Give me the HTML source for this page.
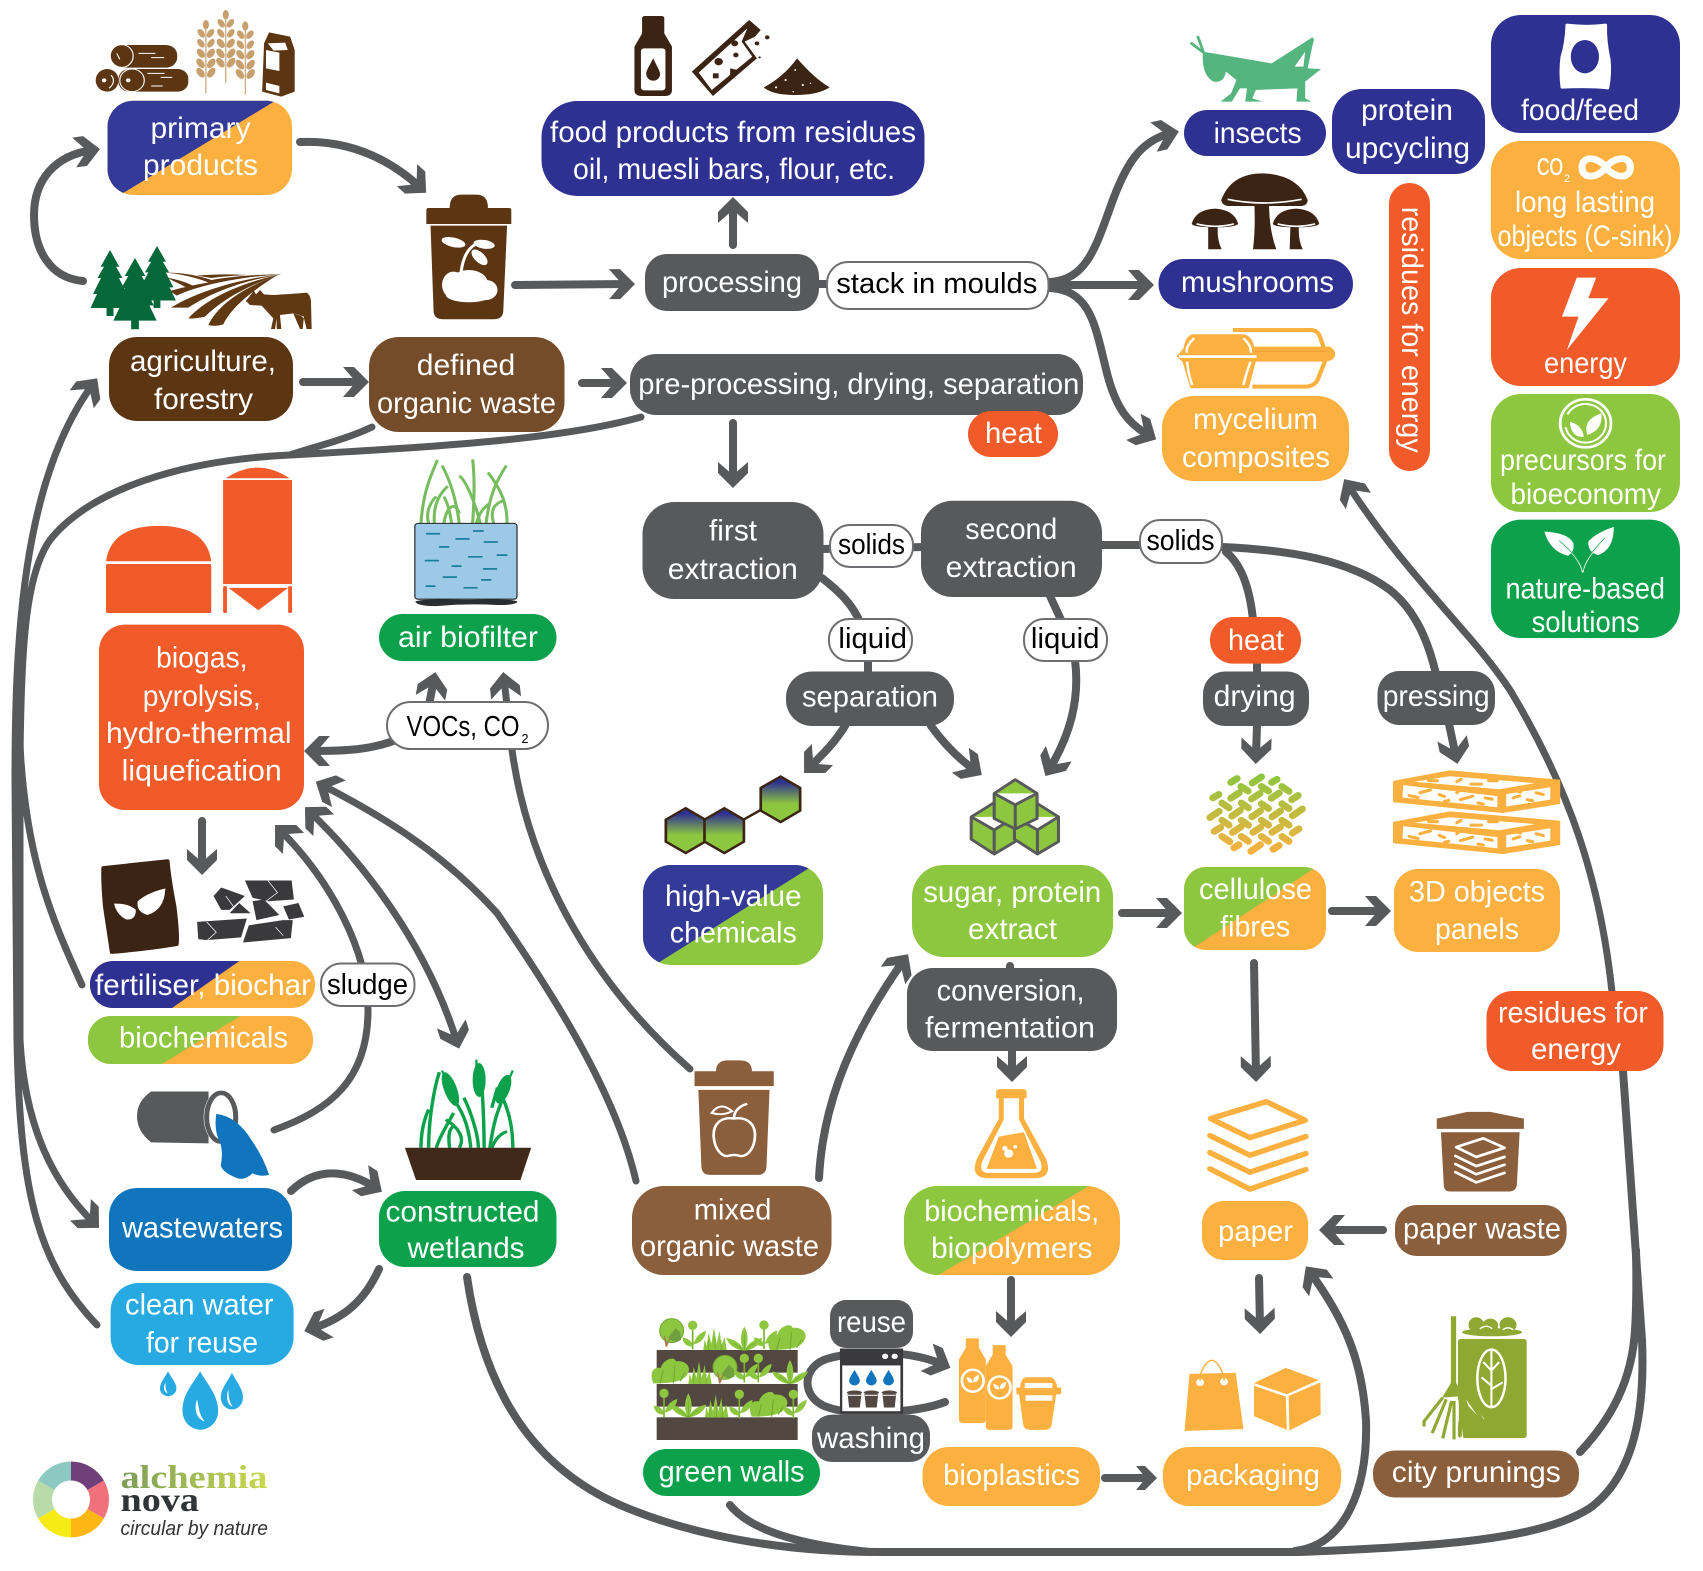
<!DOCTYPE html>
<html><head><meta charset="utf-8"><title>Circular organic waste flows</title>
<style>html,body{margin:0;padding:0;background:#fff}svg{display:block}
.t{font-family:"Liberation Sans",sans-serif;font-size:30px;fill:#fff;text-anchor:middle}
.k{fill:#000;font-size:29px}
.c path{fill:none;stroke:#58595b;stroke-width:8;stroke-linecap:round}
.c path.th{stroke-width:7}
.w{fill:none;stroke:#fff}
</style></head><body>
<svg xmlns="http://www.w3.org/2000/svg" width="1703" height="1571" viewBox="0 0 1703 1571">
<defs>
<marker id="a" markerUnits="userSpaceOnUse" viewBox="-24 -20 40 40" markerWidth="40" markerHeight="40" refX="0" refY="0" orient="auto-start-reverse"><polygon fill="#58595b" points="7,0 -8,-15 -19,-15 -6,0 -19,15 -8,15"/></marker>
<marker id="b" markerUnits="userSpaceOnUse" viewBox="-24 -20 40 40" markerWidth="40" markerHeight="40" refX="0" refY="0" orient="auto"><polygon fill="#58595b" points="7,0 -5,-12 -14,-12 -4,0 -14,12 -5,12"/></marker>
<linearGradient id="hx" x1="0" y1="0" x2="0" y2="1"><stop offset=".12" stop-color="#2e3192"/><stop offset=".6" stop-color="#8dc63f"/></linearGradient>
<linearGradient id="fb" gradientUnits="userSpaceOnUse" x1="0" y1="800" x2="0" y2="1030"><stop offset="0" stop-color="#8dc63f"/><stop offset="1" stop-color="#fbb040"/></linearGradient>
<linearGradient id="lg" x1="0" y1="0" x2="1" y2="0"><stop offset="0" stop-color="#7b9e59"/><stop offset="1" stop-color="#c9d94c"/></linearGradient>
<clipPath id="c1"><rect x="107.500" y="100.700" width="184.500" height="94.300" rx="26"/></clipPath>
<clipPath id="c2"><rect x="90" y="961" width="225" height="47" rx="23"/></clipPath>
<clipPath id="c3"><rect x="88" y="1016" width="225" height="48" rx="23"/></clipPath>
<clipPath id="c4"><rect x="643" y="865" width="180" height="100" rx="28"/></clipPath>
<clipPath id="c5"><rect x="1184" y="867" width="142" height="83" rx="22"/></clipPath>
<clipPath id="c6"><rect x="904" y="1186" width="216" height="89" rx="34"/></clipPath>
<polygon id="tree" points="0,0 9.300,16.700 6,16.700 12.500,28 9,28 17,44 13,44 19.500,58 3.500,58 3.500,66 -3.500,66 -3.500,58 -19.500,58 -13,44 -17,44 -9,28 -12.500,28 -6,16.700 -9.300,16.700"/>
<g id="wheat"><path d="M0 0V220" stroke="#c8a06e" stroke-width="3" fill="none"/><g fill="#c8a06e"><ellipse cx="0" cy="14" rx="8" ry="14"/><ellipse cx="-12" cy="40" rx="8" ry="14" transform="rotate(-30 -12 40)"/><ellipse cx="12" cy="40" rx="8" ry="14" transform="rotate(30 12 40)"/><ellipse cx="-13" cy="70" rx="8" ry="14" transform="rotate(-30 -13 70)"/><ellipse cx="13" cy="70" rx="8" ry="14" transform="rotate(30 13 70)"/><ellipse cx="-13" cy="100" rx="9" ry="15" transform="rotate(-30 -13 100)"/><ellipse cx="13" cy="100" rx="9" ry="15" transform="rotate(30 13 100)"/><ellipse cx="-14" cy="130" rx="9" ry="16" transform="rotate(-30 -14 130)"/><ellipse cx="14" cy="130" rx="9" ry="16" transform="rotate(30 14 130)"/><ellipse cx="-14" cy="158" rx="9" ry="16" transform="rotate(-30 -14 158)"/><ellipse cx="14" cy="158" rx="9" ry="16" transform="rotate(30 14 158)"/></g></g>
<g id="panel"><polygon fill="#fbb040" stroke="#fbb040" stroke-width="6" stroke-linejoin="round" points="692,818 850,788 1160,815 1160,880 1000,906 692,875"/><polygon fill="#fff" points="718,828 985,860 985,892 716,864"/><polygon fill="#fff" points="1010,854 1135,834 1135,870 1010,890"/><polygon fill="#fff" points="750,818 850,802 1092,822 990,840"/><g stroke="#fbb040" stroke-width="9" stroke-linecap="round"><path d="M765 850l30-8M820 855l15 6M870 850l10-10M880 870l35-10M735 858l25 6M950 865l20 4M790 815h25M870 818l12-7M910 825h30M960 815h25M1030 865l18-6M1070 870l15 3M1095 850l20 5M835 875l12-3M930 880l15 3M1040 845l10 3"/></g></g>
<g id="kup"><ellipse cx="0" cy="0" rx="20" ry="6" fill="#534741"/><path d="M-18 4H18L14 44H-14Z" fill="#534741"/><path d="M-17 8H17" stroke="#fff" stroke-width="3"/></g>
<g id="wd"><path d="M0 -22C-8 -6 -14 2 -14 10A14 14 0 0 0 14 10C14 2 8 -6 0 -22Z" fill="#1075bc"/></g>
<g id="bot"><path d="M18 0H52V28L70 62V240Q70 250 60 250H10Q0 250 0 240V62L18 28Z" fill="#fbb040"/><ellipse cx="36" cy="125" rx="32" ry="36" fill="#fff"/><ellipse cx="36" cy="125" rx="25" ry="29" fill="#fbb040"/><path d="M20 115Q34 115 36 130Q22 135 20 115ZM52 108Q54 128 38 130Q34 115 52 108Z" fill="#fff"/></g>
<g id="fan"><path fill="#8dc63f" d="M0 0C-16 -25 -10 -55 0 -72C10 -55 16 -25 0 0ZM0 0C-25 -2 -48 -18 -54 -38C-30 -34 -10 -22 0 0ZM0 0C25 -2 48 -18 54 -38C30 -34 10 -22 0 0Z"/><path d="M0 0V-50M0 0L-30 -22M0 0L30 -22" stroke="#6fa82e" stroke-width="2" fill="none"/></g>
<g id="grs"><path fill="#8dc63f" d="M-35 0L-31 -32L-25 -12L-19 -52L-11 -18L-3 -68L5 -18L14 -58L19 -15L29 -38L35 0Z"/><path d="M-20 0V-30M0 0V-40M18 0V-30" stroke="#6fa82e" stroke-width="2"/></g>
<g id="bsh"><path fill="#8dc63f" d="M-50 -2C-65 -40 -45 -52 -28 -48C-22 -72 12 -86 18 -68C42 -72 62 -55 56 -38C48 -15 30 -2 -50 -2Z"/><path d="M-30 -2L-20 -40M10 -2L15 -55M30 -8L45 -35" stroke="#6fa82e" stroke-width="3" fill="none"/></g>
<g id="lol"><path d="M0 0V-65" stroke="#7ab22f" stroke-width="5"/><circle cx="0" cy="-72" r="14" fill="#8dc63f"/><path fill="#8dc63f" d="M0 -8C-22 -8 -30 -22 -30 -35C-10 -32 0 -22 0 -8ZM2 -15C10 -40 25 -52 40 -55C38 -35 25 -18 2 -15Z"/></g>
<g id="trb"><path d="M-15 -5L-20 -40M-15 -5L-2 -45" stroke="#a97c50" stroke-width="4" fill="none"/><circle cx="0" cy="-50" r="36" fill="#8dc63f" stroke="#6fa82e" stroke-width="3"/><path d="M-10 -30L12 -58L26 -45L28 -22Q5 -10 -10 -30Z" fill="#6fa040"/><path d="M-16 -2L-22 -35M-16 -2L-4 -30" stroke="#a97c50" stroke-width="4" fill="none"/></g>
</defs>
<rect width="1703" height="1571" fill="#fff"/>

<!-- connectors -->
<g class="c">
<path d="M83 281C50 278 34 250 34 215C34 180 55 155 93 150" marker-end="url(#a)"/>
<path d="M300 142C345 140 385 155 421 188" marker-end="url(#a)"/>
<path d="M515 285L628 284" marker-end="url(#a)"/>
<path d="M733 245L733 204" marker-end="url(#a)"/>
<path d="M303 382L362 382" marker-end="url(#a)"/>
<path d="M582 383L620 383" marker-end="url(#a)"/>
<path d="M733 423L733 481" marker-end="url(#a)"/>
<path d="M819 284H830"/>
<path d="M1050 282C1085 280 1095 250 1110 208C1125 165 1140 140 1172 133" marker-end="url(#a)"/>
<path d="M1050 285L1147 285" marker-end="url(#a)"/>
<path d="M1050 288C1090 290 1095 325 1105 365C1115 410 1130 425 1150 436" marker-end="url(#a)"/>
<path class="th" d="M97 1325C40 1265 20 1200 17 1040L15 780C15 640 22 480 93 384" marker-end="url(#a)"/>
<path class="th" d="M641 417C560 440 430 447 290 455C180 460 90 490 50 540C25 575 21 650 20 760L20 1040C25 1130 55 1185 94 1223" marker-end="url(#a)"/>
<path class="th" d="M372 427C345 440 310 448 290 455"/>
<path class="th" d="M82 985C50 915 22 850 19 720"/>
<path d="M396 740C370 750 345 751 311 751" marker-end="url(#a)"/>
<path class="th" d="M690 1069C600 990 530 880 512 750L504 679" marker-end="url(#a)"/>
<path d="M429 705L434 679" marker-end="url(#a)"/>
<path class="th" d="M636 1181C615 1090 550 990 497 913C440 850 380 815 322 785" marker-end="url(#a)"/>
<path class="th" d="M310 812C360 860 425 940 457 1042" marker-start="url(#a)" marker-end="url(#a)"/>
<path class="th" d="M274 1130C330 1110 368 1080 368 1010C368 950 330 880 280 830" marker-end="url(#a)"/>
<path d="M202 821L202 868" marker-end="url(#a)"/>
<path d="M291 1191C315 1168 345 1168 376 1188" marker-end="url(#a)"/>
<path d="M379 1269C365 1300 345 1318 311 1329" marker-end="url(#a)"/>
<path d="M467 1277C485 1400 540 1470 620 1505C690 1535 780 1552 880 1552L1300 1552C1440 1546 1540 1540 1590 1508C1635 1475 1645 1410 1642 1340L1623 1071"/>
<path d="M730 1505C750 1530 800 1545 870 1552"/>
<path d="M1295 1551C1345 1545 1368 1490 1366 1420C1362 1360 1345 1320 1310 1272" marker-end="url(#a)"/>
<path class="th" d="M1612 992C1600 880 1570 790 1510 690C1470 630 1410 580 1348 485" marker-end="url(#a)"/>
<path d="M1580 1452C1612 1418 1632 1380 1635 1330Q1637 1300 1636 1250"/>
<path d="M1254 963L1256 1075" marker-end="url(#a)"/>
<path d="M1383 1230L1326 1230" marker-end="url(#a)"/>
<path d="M1259 1278L1260 1327" marker-end="url(#a)"/>
<path d="M1105 1478L1150 1478" marker-end="url(#b)"/>
<path d="M1011 1280L1011 1330" marker-end="url(#a)"/>
<path d="M1012 1045L1012 1075" marker-end="url(#a)"/>
<path d="M1010 966V972"/>
<path d="M1122 913L1175 913" marker-end="url(#a)"/>
<path d="M1332 911L1384 911" marker-end="url(#a)"/>
<path d="M819 1178C822 1120 840 1050 904 960" marker-end="url(#a)"/>
<path d="M822 578C840 592 852 604 860 622"/>
<path d="M868 658V674"/>
<path d="M822 549L925 547"/>
<path d="M1100 545H1142"/>
<path d="M1050 596L1062 622"/>
<path d="M1075 660C1080 700 1070 735 1049 770" marker-end="url(#a)"/>
<path d="M845 726C835 742 825 752 809 768" marker-end="url(#a)"/>
<path d="M931 726C945 745 960 760 976 771" marker-end="url(#a)"/>
<path d="M1226 552C1242 565 1250 590 1253 620"/>
<path d="M1257 660V675"/>
<path d="M1257 724L1256 757" marker-end="url(#a)"/>
<path d="M1222 547C1290 550 1350 560 1390 590C1415 610 1428 640 1436 674"/>
<path d="M1449 724L1456 757" marker-end="url(#a)"/>
<path d="M945 1402C915 1414 850 1415 830 1408C800 1400 800 1365 830 1358C860 1350 910 1350 944 1365" marker-end="url(#a)"/>
</g>

<!-- boxes -->
<g clip-path="url(#c1)"><rect x="100" y="95" width="200" height="105" fill="#fbb040"/><polygon points="100,95 285,95 110,201 100,201" fill="#343a98"/></g>
<rect x="109" y="337" width="184" height="84" rx="28" fill="#5c3612"/>
<rect x="369" y="337" width="195.500" height="95" rx="30" fill="#754c29"/>
<rect x="541.500" y="101" width="383" height="95" rx="36" fill="#2e3192"/>
<rect x="645" y="254" width="174" height="57" rx="22" fill="#58595b"/>
<rect x="827" y="262" width="221.500" height="47" rx="21" fill="#fff" stroke="#6d6e71" stroke-width="2"/>
<rect x="630" y="354" width="453" height="61" rx="26" fill="#58595b"/>
<rect x="968" y="411" width="90" height="46" rx="23" fill="#f15a29"/>
<rect x="1184" y="110" width="142" height="46" rx="23" fill="#2e3192"/>
<rect x="1332" y="89" width="153" height="85" rx="30" fill="#2e3192"/>
<rect x="1491" y="15" width="189" height="118" rx="30" fill="#2e3192"/>
<rect x="1491" y="141" width="189" height="118" rx="30" fill="#fbb040"/>
<rect x="1491" y="268" width="189" height="118" rx="30" fill="#f15a29"/>
<rect x="1491" y="394" width="189" height="118" rx="30" fill="#8dc63f"/>
<rect x="1491" y="519.600" width="189" height="118.400" rx="30" fill="#0da14b"/>
<rect x="1158.500" y="259" width="194.500" height="50" rx="25" fill="#2e3192"/>
<rect x="1162" y="396" width="187" height="85" rx="32" fill="#fbb040"/>
<rect x="1389" y="183" width="41" height="288" rx="20.500" fill="#f15a29"/>
<rect x="99" y="624.600" width="205" height="185.400" rx="26" fill="#f15a29"/>
<rect x="379" y="614" width="177.500" height="47" rx="23.500" fill="#0da14b"/>
<rect x="387" y="702" width="161" height="47" rx="23.500" fill="#fff" stroke="#6d6e71" stroke-width="2"/>
<g clip-path="url(#c2)"><rect x="85" y="955" width="240" height="60" fill="#fbb040"/><polygon points="85,955 248,955 162,1015 85,1015" fill="#2e3192"/></g>
<g clip-path="url(#c3)"><rect x="85" y="1010" width="240" height="60" fill="#fbb040"/><polygon points="85,1010 250,1010 152,1070 85,1070" fill="#8dc63f"/></g>
<rect x="321" y="963.500" width="93.500" height="42.500" rx="20" fill="#fff" stroke="#6d6e71" stroke-width="2"/>
<rect x="642.500" y="502" width="181" height="97" rx="32" fill="#58595b"/>
<rect x="921" y="500.700" width="181" height="96.300" rx="32" fill="#58595b"/>
<rect x="830" y="525" width="83" height="42" rx="20" fill="#fff" stroke="#6d6e71" stroke-width="2"/>
<rect x="1140" y="520" width="82" height="43" rx="20" fill="#fff" stroke="#6d6e71" stroke-width="2"/>
<rect x="829" y="619" width="83" height="42" rx="20" fill="#fff" stroke="#6d6e71" stroke-width="2"/>
<rect x="1024" y="619" width="83" height="42" rx="20" fill="#fff" stroke="#6d6e71" stroke-width="2"/>
<rect x="786" y="671.500" width="168" height="54.500" rx="26" fill="#58595b"/>
<g clip-path="url(#c4)"><rect x="640" y="860" width="190" height="110" fill="#8dc63f"/><polygon points="640,860 822,860 650,968 640,968" fill="#343a98"/></g>
<rect x="912" y="865" width="201" height="92" rx="32" fill="#8dc63f"/>
<rect x="907" y="968" width="210" height="83" rx="26" fill="#58595b"/>
<rect x="1210" y="617" width="91" height="46.600" rx="23" fill="#f15a29"/>
<rect x="1203" y="671.500" width="106" height="54.500" rx="22" fill="#58595b"/>
<rect x="1377.500" y="671" width="117.500" height="54" rx="22" fill="#58595b"/>
<g clip-path="url(#c5)"><rect x="1180" y="860" width="150" height="95" fill="#fbb040"/><polygon points="1180,860 1327,860 1182,955 1180,955" fill="#8dc63f"/></g>
<rect x="1394" y="869" width="166" height="83" rx="24" fill="#fbb040"/>
<rect x="1486.500" y="991" width="177" height="80" rx="26" fill="#f15a29"/>
<rect x="109" y="1188" width="183" height="83" rx="28" fill="#1075bc"/>
<rect x="110.600" y="1283" width="183" height="82" rx="28" fill="#27aae1"/>
<rect x="379" y="1191" width="177.500" height="76" rx="26" fill="#0da14b"/>
<rect x="632" y="1186" width="199.500" height="89" rx="32" fill="#8b5e3c"/>
<g clip-path="url(#c6)"><rect x="900" y="1180" width="225" height="100" fill="#fbb040"/><polygon points="900,1180 1099,1180 930,1280 900,1280" fill="#8dc63f"/></g>
<rect x="830" y="1300" width="83" height="48" rx="16" fill="#58595b"/>
<rect x="812" y="1414.600" width="118" height="47.400" rx="20" fill="#58595b"/>
<rect x="643" y="1449" width="177" height="47" rx="23.500" fill="#0da14b"/>
<rect x="922.600" y="1447" width="177.400" height="59" rx="26" fill="#fbb040"/>
<rect x="1202" y="1201" width="106" height="59" rx="22" fill="#fbb040"/>
<rect x="1395" y="1205" width="171.600" height="51" rx="22" fill="#8b5e3c"/>
<rect x="1163" y="1447" width="178" height="59" rx="26" fill="#fbb040"/>
<rect x="1373" y="1450.500" width="206" height="47" rx="22" fill="#8b5e3c"/>

<!-- trees, fields, cow -->
<g transform="translate(80 235) scale(.3333)">
<g fill="#603913">
<path d="M500 120C450 117 400 117 350 122L395 129C430 124 470 122 500 120Z"/>
<path d="M255 113C300 116 350 128 395 146C440 133 520 122 605 118C520 118 440 126 395 135C350 120 300 112 255 113Z"/>
<path d="M262 128C300 135 335 148 345 156C420 135 520 122 605 118C500 124 400 140 330 165C310 150 280 140 262 128Z"/>
<path d="M270 168L290 182C370 145 500 124 605 118C480 124 350 145 270 168Z"/>
<path d="M273 218C350 170 480 130 605 118C490 135 390 175 325 218Z"/>
<path d="M325 250C380 190 480 145 600 118C510 150 430 190 375 245Q345 252 325 250Z"/>
<path d="M385 270C420 200 500 155 590 122C520 165 455 215 430 268Q405 276 385 270Z"/>
<path d="M498 198L518 172L518 160L528 178L540 165L552 178L580 180C620 178 660 175 680 173Q692 180 693 200L695 282H680L672 250L660 240L640 235L660 282H668L672 245L640 235L600 240L604 282H590L590 250L585 282H573L580 250L545 212L510 210Z"/>
</g>
</g>
<g fill="#056839">
<use href="#tree" transform="translate(157 246) scale(.97 .94)"/>
<use href="#tree" transform="translate(110 250)"/>
<use href="#tree" transform="translate(135 258) scale(1.11 1.08)"/>
</g>

<!-- icons z1 -->
<g transform="scale(.3827 .3333)">
<rect x="290" y="135" width="173" height="68" rx="30" fill="#5c3612"/><ellipse cx="318" cy="168" rx="30" ry="34" fill="#5c3612" stroke="#fff" stroke-width="3"/><path d="M362 160h44M395 173h34M305 160l8 18" stroke="#fff" stroke-width="3" fill="none"/>
<rect x="310" y="207" width="182" height="68" rx="28" fill="#5c3612"/><ellipse cx="280" cy="241" rx="30" ry="34" fill="#5c3612"/><ellipse cx="345" cy="241" rx="32" ry="34" fill="#5c3612" stroke="#fff" stroke-width="3"/><path d="M385 220h45M420 232h30M395 258h30M290 225q15 20 -5 40" stroke="#fff" stroke-width="3" fill="none"/><circle cx="272" cy="241" r="6" fill="#fff"/><circle cx="335" cy="241" r="6" fill="#fff"/>
<use href="#wheat" x="538" y="60"/><use href="#wheat" x="590" y="30"/><use href="#wheat" x="641" y="64"/>
<path d="M690 130L703 97L758 110L770 150V275L735 290L685 275Z" fill="#5c3612"/><path d="M695 150L730 158V213L695 205ZM695 248L730 258V280L695 270ZM700 130L745 128L752 150L715 152Z" fill="#fff"/>
<path fill="#5c3612" d="M1114 630Q1114 624 1120 624H1330Q1336 624 1336 630V672H1114ZM1175 624Q1175 584 1205 584H1245Q1275 584 1275 624ZM1125 677H1325L1315 935Q1313 958 1290 958H1158Q1135 958 1133 935Z"/>
<g fill="#fff"><ellipse cx="1185" cy="855" rx="30" ry="40"/><ellipse cx="1225" cy="850" rx="50" ry="40"/><ellipse cx="1270" cy="870" rx="30" ry="30"/><ellipse cx="1225" cy="885" rx="60" ry="22"/><ellipse cx="1185" cy="727" rx="32" ry="14" transform="rotate(15 1185 727)"/><ellipse cx="1265" cy="733" rx="28" ry="13" transform="rotate(10 1265 733)"/><ellipse cx="1253" cy="772" rx="28" ry="14" transform="rotate(50 1253 772)"/></g><path d="M1205 815C1210 770 1225 740 1250 728" class="w" stroke-width="8"/>
</g>
<!-- z2 -->
<g transform="translate(600 0) scale(.3827 .3333)">
<path fill="#3c2415" d="M110 55Q110 48 118 48H160Q168 48 168 55V100L188 140V270Q188 288 170 288H108Q90 288 90 270V140L110 100Z"/><rect x="107" y="145" width="64" height="126" rx="8" fill="#fff"/><path d="M139 175C125 205 120 215 121 222A18 20 0 0 0 157 222C157 215 152 205 139 175Z" fill="#3c2415"/>
<polygon fill="#3c2415" points="240,215 390,60 420,90 405,110 378,125 410,175 295,288"/><polygon fill="#fff" points="258,218 385,85 370,125 398,170 292,270"/><g fill="#3c2415"><circle cx="352" cy="130" r="9"/><circle cx="310" cy="185" r="11"/><circle cx="355" cy="165" r="7"/><rect x="295" y="220" width="15" height="15"/><circle cx="410" cy="130" r="6"/><circle cx="437" cy="112" r="6"/><circle cx="417" cy="172" r="3"/><path d="M340 205l20 5-20 20z"/></g>
<path fill="#3c2415" d="M428 262Q480 230 515 175Q560 235 600 262Q570 285 510 285Q450 285 428 262Z"/><g fill="#fff"><circle cx="485" cy="240" r="3"/><circle cx="510" cy="210" r="2.500"/><circle cx="530" cy="255" r="3"/><circle cx="460" cy="262" r="3"/><circle cx="505" cy="275" r="2"/><circle cx="550" cy="250" r="2"/></g>
</g>
<!-- z3 -->
<g transform="translate(1150 0) scale(.3527 .3333)">
<path fill="#55b57e" d="M150 155L345 190L460 112Q468 115 462 130L447 205L485 207L440 245V295L458 305H415L418 265L300 270L290 295L320 305H270L275 265H255L232 305H200L230 280L245 240L215 215Q210 250 180 245Q145 225 150 155Z"/><path d="M152 158L135 108M152 158L115 128" stroke="#55b57e" stroke-width="8" fill="none"/><polygon fill="#fff" points="440,155 410,200 435,200"/>
<path fill="#3c2415" d="M202 600Q230 520 320 520Q420 525 447 600Q447 620 420 618H230Q205 620 202 600ZM295 595H338Q335 680 358 748H292Q300 680 295 595ZM118 672Q130 628 185 626Q240 630 250 672Q240 682 185 682Q125 682 118 672ZM165 680H192Q190 720 203 748H165ZM348 672Q360 628 415 626Q470 630 480 672Q470 682 415 682Q355 682 348 672ZM398 680H422Q420 720 433 748H396Z"/><path d="M220 598Q320 620 430 598M132 672Q185 686 238 672M362 672Q415 686 468 672" class="w" stroke-width="5"/>
<path fill="none" stroke="#fbb040" stroke-width="12" d="M235 990H455Q475 990 482 1010L495 1050M505 1060L475 1140Q465 1160 440 1160H290"/><path fill="#fbb040" d="M290 1040H510Q525 1050 525 1062Q525 1080 500 1085H290Z"/><rect x="295" y="1052" width="205" height="3" fill="#e59a35"/>
<path fill="#fbb040" d="M120 1003H265Q290 1008 295 1040L300 1085L280 1165H115L92 1085L75 1070L95 1045Q100 1010 120 1003Z"/><path d="M82 1070H302" stroke="#fff" stroke-width="8"/><path d="M125 1015Q100 1040 105 1058M265 1015Q290 1040 285 1058M105 1085Q110 1130 120 1155M285 1085Q270 1130 265 1155" class="w" stroke-width="7"/>
<path fill="#fff" stroke="#fff" stroke-width="8" stroke-linejoin="round" d="M1182 75Q1240 82 1292 75Q1290 120 1302 180Q1306 220 1298 264Q1240 258 1168 262Q1162 215 1168 170Q1180 130 1182 75Z"/><ellipse cx="1233" cy="170" rx="40" ry="50" fill="#2e3192"/>
<path d="M1293 502C1270 470 1225 465 1225 502C1225 540 1270 535 1293 502C1315 470 1362 465 1362 502C1362 540 1315 535 1293 502Z" class="w" stroke-width="20"/>
<polygon fill="#fff" points="1210,833 1265,833 1243,895 1300,895 1182,1050 1215,950 1168,950"/>
<circle cx="1235" cy="1270" r="72" class="w" stroke-width="8"/><circle cx="1235" cy="1270" r="58" class="w" stroke-width="6" stroke-dasharray="170 40"/><path fill="#fff" d="M1190 1265Q1225 1275 1230 1310Q1195 1315 1190 1265ZM1280 1240Q1285 1290 1240 1305Q1225 1260 1280 1240Z"/>
</g>
<!-- z4 -->
<g transform="translate(0 500) scale(.3827 .3444)">
<g fill="#f15a29"><path d="M277 178Q290 75 415 75Q540 75 552 178Z"/><rect x="277" y="186" width="275" height="142" rx="4"/><path d="M590 -63Q672 -125 757 -63Z"/><rect x="583" y="-58" width="180" height="302"/><rect x="583" y="250" width="10" height="78" rx="3"/><rect x="753" y="250" width="10" height="78" rx="3"/><polygon points="597,255 753,255 675,320"/></g>
<g fill="none" stroke="#77bc5e" stroke-width="8"><path d="M1100 68C1105 -20 1125 -70 1143 -116M1135 68C1130 0 1160 -30 1170 -40M1200 68C1190 -20 1170 -70 1155 -100M1235 68C1240 -20 1240 -70 1235 -118M1255 68C1240 0 1215 -60 1200 -70M1270 68C1280 -20 1300 -60 1323 -100M1325 68C1325 10 1310 -30 1275 -80M1160 68C1165 20 1190 0 1200 40M1290 68C1280 30 1290 10 1320 0M1120 68C1110 30 1130 0 1140 -10M1180 68C1175 30 1170 10 1160 -10M1245 68C1250 40 1265 20 1280 10"/></g>
<rect x="1084" y="68" width="267" height="220" rx="8" fill="#9bc9e6" stroke="#231f20" stroke-width="3"/>
<path d="M1113 98h37M1190 113h37M1236 90h28M1264 122h37M1147 136h27M1223 165h38M1298 160h28M1110 176h37M1180 192h26M1262 200h37M1157 224h37M1257 232h27M1112 250h26M1211 255h37" stroke="#1a7f9c" stroke-width="5" fill="none"/>
<path d="M1085 295Q1095 286 1220 290Q1345 286 1352 295Q1350 305 1300 305Q1220 300 1140 308Q1090 308 1085 295Z" fill="#2b2e30"/>
<path fill="#3c2415" stroke="#3c2415" stroke-width="10" stroke-linejoin="round" d="M270 1068Q340 1060 438 1048Q442 1100 456 1180Q465 1260 462 1290Q380 1305 292 1313Q282 1240 274 1180Q268 1100 270 1068Z"/><path fill="#fff" d="M298 1172Q335 1170 355 1190Q355 1220 330 1218Q305 1205 298 1172ZM432 1128Q430 1190 385 1205Q355 1195 360 1165Q385 1140 432 1128Z"/>
<g fill="#3a3a3c"><polygon points="558,1150 578,1125 640,1150 600,1190 578,1190"/><polygon points="640,1105 762,1105 768,1160 700,1165 660,1155"/><polygon points="660,1165 690,1160 730,1205 670,1220"/><polygon points="600,1200 625,1170 655,1200"/><polygon points="740,1180 780,1170 795,1210 755,1218"/><polygon points="515,1225 645,1215 630,1270 540,1278 518,1275"/><polygon points="650,1235 740,1220 765,1220 760,1272 635,1285"/></g>
<path d="M700 1105l25 35-30 25M540 1225l25 30-25 25M720 1240l20 25M590 1150l20 30" stroke="#fff" stroke-width="2" fill="none"/>
</g>
<!-- z5 -->
<g transform="translate(600 500) scale(.3827 .3444)">
<path d="M375 928L420 900" stroke="#3c2415" stroke-width="7"/>
<g fill="url(#hx)" stroke="#3c2415" stroke-width="7"><polygon points="224,895 275,928 275,992 224,1025 172,992 172,928"/><polygon points="325,895 376,928 376,992 325,1025 273,992 273,928"/><polygon points="472,803 523,836 523,902 472,935 420,902 420,836"/></g>
<g fill="#8dc63f" stroke="#58595b" stroke-width="8" stroke-linejoin="round"><path d="M970 920L1028 880L1085 920V992L1030 1028L970 985ZM970 920L1030 958L1085 920M1030 958V1028"/><path d="M1083 920L1141 880L1198 920V992L1143 1028L1083 985ZM1083 920L1143 958L1198 920M1143 958V1028"/><path d="M1085 812L1142 852V925L1085 955L1030 925V852ZM1030 852L1085 885L1142 852M1085 885V955"/></g>
</g>
<!-- z6 -->
<g transform="translate(1150 500) scale(.3527 .3444)">
<g stroke="url(#fb)" stroke-width="20" stroke-linecap="round" fill="none">
<path d="M229 820l18-11M290 822l26-18M345 820l15-9M258 832l20 13M316 832l20 13M374 832l20 14M178 865l17-10M229 866l24-16M288 868l24-16M344 866l22-15M402 870l18-12M204 880l20 14M259 880l20 14M316 882l20 14M374 882l20 14M170 922l26-18M232 918l24-17M289 920l24-17M346 920l24-17M404 917l28-20M204 930l20 14M259 930l20 14M316 930l20 14M374 930l20 14M182 962l18-11M234 965l24-16M292 965l22-15M346 965l24-16M404 967l18-12M204 977l22 15M259 977l20 14M316 977l20 14M374 977l20 14M238 1010l14-9M286 1020l27-19M349 1014l17-11"/>
</g>
<use href="#panel"/><use href="#panel" y="119"/>
<path fill="#fff" d="M1118 92Q1185 95 1200 125Q1205 150 1185 162Q1135 150 1118 92ZM1315 78Q1315 145 1270 160Q1240 150 1243 120Q1265 95 1315 78Z"/><path d="M1160 118Q1220 170 1227 210Q1232 170 1295 105" class="w" stroke-width="4"/><path d="M1160 118Q1220 170 1227 205" stroke="#0da14b" stroke-width="2" fill="none"/><path d="M1290 110Q1232 170 1227 205" stroke="#0da14b" stroke-width="2" fill="none"/>
</g>
<!-- z7 -->
<g transform="translate(0 1040) scale(.3827 .339)">
<path fill="#58595b" d="M395 152H545V305L395 302Q358 270 358 225Q358 180 395 152Z"/><ellipse cx="578" cy="228" rx="46" ry="80" fill="#fff"/><ellipse cx="578" cy="228" rx="38" ry="72" fill="#fff" stroke="#58595b" stroke-width="13"/>
<path fill="#1075bc" d="M565 218Q620 225 660 300Q690 350 703 398Q680 405 660 393Q640 415 620 408Q580 390 577 370Q585 320 570 290Q560 260 565 218Z"/>
<g fill="none" stroke="#0da14b" stroke-width="9"><path d="M1120 318C1120 230 1135 140 1148 95M1100 318C1100 270 1110 230 1120 205M1140 318C1150 280 1170 250 1185 215M1175 318C1170 280 1175 260 1185 255M1200 318C1215 290 1200 260 1165 235M1230 318C1225 250 1205 200 1180 170M1250 318C1250 280 1230 210 1212 170M1265 318C1265 240 1262 190 1260 150M1280 318C1290 240 1300 210 1315 170M1340 318C1340 250 1325 200 1315 175M1285 318C1295 290 1310 275 1325 270M1285 200L1300 140"/></g>
<g fill="#0da14b"><ellipse cx="1177" cy="145" rx="17" ry="52" transform="rotate(-18 1177 145)"/><ellipse cx="1252" cy="118" rx="17" ry="50"/><ellipse cx="1315" cy="145" rx="17" ry="44" transform="rotate(18 1315 145)"/></g><path d="M1155 90l8 20M1245 58v25M1340 90l-10 25" stroke="#0da14b" stroke-width="6"/>
<polygon fill="#40291b" points="1058,318 1388,318 1360,413 1087,413"/>
<g fill="#27aae1"><path d="M523 978C500 1020 475 1050 477 1095A46 54 0 0 0 570 1095C570 1050 545 1020 523 978Z"/><path d="M439 978C428 1000 418 1012 418 1028A21 22 0 0 0 461 1028C461 1012 450 1000 439 978Z"/><path d="M606 982C592 1012 577 1030 577 1055A29 35 0 0 0 635 1055C635 1030 620 1012 606 982Z"/></g>
<path d="M515 1060C505 1090 515 1120 535 1125C520 1105 520 1085 515 1060ZM433 1010C425 1025 428 1038 438 1042C432 1030 432 1020 433 1010ZM597 1030C590 1050 592 1075 608 1082C598 1065 597 1050 597 1030Z" fill="#fff"/>
</g>
<!-- logo -->
<g fill="none" stroke-width="19" transform="translate(71 1499.500)">
<circle r="28.500" pathLength="6" stroke="#6f3f79" stroke-dasharray="1 5" transform="rotate(-90)"/>
<circle r="28.500" pathLength="6" stroke="#f0717a" stroke-dasharray="1 5" transform="rotate(-30)"/>
<circle r="28.500" pathLength="6" stroke="#fdb714" stroke-dasharray="1 5" transform="rotate(30)"/>
<circle r="28.500" pathLength="6" stroke="#f6eb14" stroke-dasharray="1 5" transform="rotate(90)"/>
<circle r="28.500" pathLength="6" stroke="#b8dba8" stroke-dasharray="1 5" transform="rotate(150)"/>
<circle r="28.500" pathLength="6" stroke="#8cc9c1" stroke-dasharray="1 5" transform="rotate(210)"/>
</g>
<!-- green wall -->
<g transform="translate(650 1310) scale(.3333)">
<g fill="#534741"><rect x="20" y="120" width="423" height="68"/><rect x="20" y="222" width="423" height="68"/><rect x="20" y="322" width="423" height="68"/></g>
<use href="#trb" x="65" y="112"/><use href="#lol" x="128" y="118"/><use href="#grs" x="195" y="120"/><use href="#fan" x="283" y="122"/><use href="#lol" x="342" y="122" transform="translate(0 -5)"/><use href="#bsh" x="410" y="122"/>
<use href="#bsh" x="60" y="222"/><use href="#grs" x="150" y="222"/><use href="#trb" x="225" y="222"/><use href="#lol" x="283" y="222" transform="translate(0 -5)"/><use href="#lol" x="325" y="222" transform="translate(0 -5)"/><use href="#fan" x="420" y="222"/>
<use href="#lol" x="42" y="322"/><use href="#fan" x="115" y="322"/><use href="#grs" x="200" y="322"/><use href="#lol" x="268" y="325"/><use href="#bsh" x="355" y="322"/><use href="#lol" x="430" y="325"/>
</g>
<!-- z8 -->
<g transform="translate(600 1040) scale(.3827 .339)">
<path fill="#8b5e3c" d="M247 92H454V136H247ZM303 92Q303 60 335 60H365Q397 60 397 92ZM257 147H443L435 375Q433 398 412 398H288Q267 398 265 375Z"/>
<path d="M350 232C320 225 295 245 297 285C300 325 320 345 335 342C345 338 355 338 365 342C385 345 405 320 405 280C405 245 380 225 350 232ZM350 232Q350 200 385 188" class="w" stroke-width="7"/><path d="M292 215Q315 180 345 210Q320 225 292 215Z" class="w" stroke-width="6"/>
<path fill="#fbb040" d="M1035 155Q1035 145 1045 145H1105Q1115 145 1115 155V172H1108V232L1165 350Q1185 408 1135 408H1015Q965 408 985 350L1042 232V172H1035Z"/><path fill="#fff" d="M1055 172H1095V235L1152 360Q1160 392 1135 392H1015Q990 392 998 360L1055 235Z"/><path fill="#fbb040" d="M1042 285L1108 272L1142 380H1010Z"/><circle cx="1068" cy="335" r="12" fill="#fff"/><circle cx="1058" cy="320" r="7" fill="#fff"/><circle cx="1085" cy="315" r="5" fill="#fff"/>
<rect x="627" y="910" width="165" height="192" fill="#3a3a3c"/><rect x="633" y="960" width="152" height="135" fill="#fff"/><circle cx="745" cy="933" r="8" fill="#fff"/><circle cx="770" cy="933" r="8" fill="#fff"/>
<use href="#wd" x="665" y="995"/><use href="#wd" x="709" y="995"/><use href="#wd" x="754" y="995"/>
<use href="#kup" x="665" y="1040"/><use href="#kup" x="709" y="1040"/><use href="#kup" x="756" y="1040"/>
<use href="#bot" x="938" y="880"/><use href="#bot" x="1008" y="900"/>
<path fill="#fbb040" d="M1115 995H1175Q1190 995 1195 1025H1205V1045H1192L1180 1135Q1178 1150 1160 1150H1125Q1108 1150 1106 1135L1095 1045H1088V1025H1098Q1100 995 1115 995Z"/><rect x="1110" y="1012" width="72" height="15" fill="#fff"/><rect x="1112" y="1048" width="70" height="16" fill="#fff"/>
</g>
<!-- z9 -->
<g transform="translate(1150 1040) scale(.3527 .339)">
<g fill="none" stroke="#fbb040" stroke-width="16" stroke-linecap="round" stroke-linejoin="round"><polygon points="330,182 440,237 283,288 172,232"/><path d="M170 282L283 340L442 285M170 332L283 390L442 335M170 380L283 440L442 382"/></g>
<path fill="#8b5e3c" d="M813 232L900 212H965L1060 232V262H813ZM825 272H1048L1040 430Q1035 447 1020 447H850Q835 447 833 430Z"/>
<g fill="none" stroke="#fff" stroke-width="8" stroke-linecap="round" stroke-linejoin="round"><polygon points="945,290 1005,318 925,345 868,316"/><path d="M866 342L925 372L1005 345M866 366L925 396L1005 368M866 390L925 420L1005 392"/></g>
<polygon fill="#fbb040" points="112,985 243,982 265,1148 98,1153"/><path d="M143 985Q175 905 207 985" fill="none" stroke="#fbb040" stroke-width="4"/><circle cx="142" cy="1010" r="11" fill="#fff"/><circle cx="210" cy="1008" r="11" fill="#fff"/><path d="M142 985v20M210 985v20" stroke="#fbb040" stroke-width="4"/>
<g fill="#fbb040"><polygon points="295,1012 385,967 478,1003 388,1045"/><polygon points="295,1020 385,1052 388,1150 295,1110"/><polygon points="393,1050 483,1010 484,1105 395,1152"/></g>
<g fill="#8fa832"><rect x="873" y="882" width="195" height="292" rx="8"/><rect x="853" y="815" width="15" height="200"/><polygon points="853,1012 868,1012 892,1050 828,1055"/><ellipse cx="925" cy="840" rx="22" ry="22"/><ellipse cx="965" cy="842" rx="22" ry="20"/><ellipse cx="1015" cy="840" rx="24" ry="22"/><ellipse cx="970" cy="862" rx="85" ry="12"/></g>
<g stroke="#fff" stroke-width="8"><path d="M945 1120L890 1060M870 1060L885 1180M845 1065V1180"/></g>
<g fill="none" stroke="#8fa832" stroke-width="9"><path d="M830 1055L777 1125V1140M840 1060L800 1160M855 1065L830 1175M862 1065V1178M880 1065V1170M890 1055L920 1150M895 1050L945 1125V1140"/></g>
<ellipse cx="968" cy="998" rx="40" ry="85" fill="none" stroke="#fff" stroke-width="7"/><path d="M968 915V1082M968 975L945 950M968 975L990 950M968 1020L940 995M968 1030L1000 1010" fill="none" stroke="#fff" stroke-width="6"/>
<path d="M935 852q20 -15 35 0M1000 855q15 -12 30 0" fill="none" stroke="#fff" stroke-width="4"/>
</g>

<!-- text -->
<g class="t" transform="translate(0 1)">
<text x="200.500" y="137" textLength="100" lengthAdjust="spacingAndGlyphs">primary</text>
<text x="200.500" y="174" textLength="115" lengthAdjust="spacingAndGlyphs">products</text>
<text x="203" y="370" textLength="146" lengthAdjust="spacingAndGlyphs">agriculture,</text>
<text x="203.500" y="408" textLength="99" lengthAdjust="spacingAndGlyphs">forestry</text>
<text x="466" y="374" textLength="98.500" lengthAdjust="spacingAndGlyphs">defined</text>
<text x="466.500" y="412" textLength="179" lengthAdjust="spacingAndGlyphs">organic waste</text>
<text x="733" y="141" textLength="366" lengthAdjust="spacingAndGlyphs">food products from residues</text>
<text x="734" y="178" textLength="322" lengthAdjust="spacingAndGlyphs">oil, muesli bars, flour, etc.</text>
<text x="732" y="291" textLength="140" lengthAdjust="spacingAndGlyphs">processing</text>
<text class="k t" x="936.800" y="292" textLength="201" lengthAdjust="spacingAndGlyphs">stack in moulds</text>
<text x="858.800" y="393" textLength="441" lengthAdjust="spacingAndGlyphs">pre-processing, drying, separation</text>
<text x="1013.500" y="442" textLength="57" lengthAdjust="spacingAndGlyphs">heat</text>
<text x="1257.600" y="142" textLength="88" lengthAdjust="spacingAndGlyphs">insects</text>
<text x="1407" y="119" textLength="92" lengthAdjust="spacingAndGlyphs">protein</text>
<text x="1407.500" y="157" textLength="125" lengthAdjust="spacingAndGlyphs">upcycling</text>
<text x="1580" y="119" textLength="118" lengthAdjust="spacingAndGlyphs">food/feed</text>
<text x="1550" y="174" textLength="26" lengthAdjust="spacingAndGlyphs" stroke="#fff" stroke-width=".6" style="font-size:24px">CO</text>
<text x="1567" y="181" textLength="6" lengthAdjust="spacingAndGlyphs" style="font-size:11px">2</text>
<text x="1585" y="211" textLength="140" lengthAdjust="spacingAndGlyphs">long lasting</text>
<text x="1585" y="245" textLength="175" lengthAdjust="spacingAndGlyphs">objects (C-sink)</text>
<text x="1585.500" y="372" textLength="83" lengthAdjust="spacingAndGlyphs">energy</text>
<text x="1583" y="469" textLength="166" lengthAdjust="spacingAndGlyphs">precursors for</text>
<text x="1585.700" y="503" textLength="150.500" lengthAdjust="spacingAndGlyphs">bioeconomy</text>
<text x="1585.200" y="597.500" textLength="159.500" lengthAdjust="spacingAndGlyphs">nature-based</text>
<text x="1585.600" y="631" textLength="108" lengthAdjust="spacingAndGlyphs">solutions</text>
<text x="1257.500" y="291" textLength="153" lengthAdjust="spacingAndGlyphs">mushrooms</text>
<text x="1255.500" y="428" textLength="125" lengthAdjust="spacingAndGlyphs">mycelium</text>
<text x="1256" y="466" textLength="148" lengthAdjust="spacingAndGlyphs">composites</text>
<text transform="translate(1402 328.700) rotate(90)" textLength="246" lengthAdjust="spacingAndGlyphs">residues for energy</text>
<text x="201.800" y="666.700" textLength="91.500" lengthAdjust="spacingAndGlyphs">biogas,</text>
<text x="201.800" y="705" textLength="118" lengthAdjust="spacingAndGlyphs">pyrolysis,</text>
<text x="198.800" y="741.800" textLength="185.600" lengthAdjust="spacingAndGlyphs">hydro-thermal</text>
<text x="201.700" y="779.600" textLength="160" lengthAdjust="spacingAndGlyphs">liquefication</text>
<text x="468" y="646" textLength="140" lengthAdjust="spacingAndGlyphs">air biofilter</text>
<text class="k t" x="463" y="735" textLength="113" lengthAdjust="spacingAndGlyphs">VOCs, CO</text>
<text class="k t" x="525" y="742" textLength="7" lengthAdjust="spacingAndGlyphs" style="font-size:13px">2</text>
<text x="203" y="994" textLength="216" lengthAdjust="spacingAndGlyphs">fertiliser, biochar</text>
<text x="203.500" y="1046.500" textLength="169" lengthAdjust="spacingAndGlyphs">biochemicals</text>
<text class="k t" x="367.500" y="993" textLength="81" lengthAdjust="spacingAndGlyphs">sludge</text>
<text x="733" y="539.600" textLength="48" lengthAdjust="spacingAndGlyphs">first</text>
<text x="732.800" y="578" textLength="130" lengthAdjust="spacingAndGlyphs">extraction</text>
<text x="1011.300" y="538" textLength="92" lengthAdjust="spacingAndGlyphs">second</text>
<text x="1011.200" y="576" textLength="131" lengthAdjust="spacingAndGlyphs">extraction</text>
<text class="k t" x="871.500" y="553" textLength="67" lengthAdjust="spacingAndGlyphs">solids</text>
<text class="k t" x="1180.500" y="549" textLength="68" lengthAdjust="spacingAndGlyphs">solids</text>
<text class="k t" x="872.700" y="647" textLength="68.500" lengthAdjust="spacingAndGlyphs">liquid</text>
<text class="k t" x="1065.200" y="647" textLength="68.500" lengthAdjust="spacingAndGlyphs">liquid</text>
<text x="870" y="705.600" textLength="136" lengthAdjust="spacingAndGlyphs">separation</text>
<text x="733.300" y="905" textLength="136.600" lengthAdjust="spacingAndGlyphs">high-value</text>
<text x="733.300" y="941.500" textLength="127" lengthAdjust="spacingAndGlyphs">chemicals</text>
<text x="1012.200" y="901" textLength="178" lengthAdjust="spacingAndGlyphs">sugar, protein</text>
<text x="1012.500" y="938" textLength="89" lengthAdjust="spacingAndGlyphs">extract</text>
<text x="1010.600" y="999.700" textLength="148" lengthAdjust="spacingAndGlyphs">conversion,</text>
<text x="1010" y="1036.700" textLength="170" lengthAdjust="spacingAndGlyphs">fermentation</text>
<text x="1256" y="649" textLength="56" lengthAdjust="spacingAndGlyphs">heat</text>
<text x="1254.600" y="705" textLength="82" lengthAdjust="spacingAndGlyphs">drying</text>
<text x="1436.200" y="705" textLength="107" lengthAdjust="spacingAndGlyphs">pressing</text>
<text x="1255.500" y="898" textLength="113" lengthAdjust="spacingAndGlyphs">cellulose</text>
<text x="1255.200" y="935.300" textLength="70" lengthAdjust="spacingAndGlyphs">fibres</text>
<text x="1477" y="900.500" textLength="136" lengthAdjust="spacingAndGlyphs">3D objects</text>
<text x="1477" y="938" textLength="84" lengthAdjust="spacingAndGlyphs">panels</text>
<text x="1573" y="1021.700" textLength="150" lengthAdjust="spacingAndGlyphs">residues for</text>
<text x="1576" y="1058" textLength="90" lengthAdjust="spacingAndGlyphs">energy</text>
<text x="202.500" y="1236.600" textLength="161" lengthAdjust="spacingAndGlyphs">wastewaters</text>
<text x="199.300" y="1313.600" textLength="148.500" lengthAdjust="spacingAndGlyphs">clean water</text>
<text x="202" y="1351.500" textLength="112" lengthAdjust="spacingAndGlyphs">for reuse</text>
<text x="462.500" y="1220.700" textLength="154" lengthAdjust="spacingAndGlyphs">constructed</text>
<text x="466" y="1257" textLength="117" lengthAdjust="spacingAndGlyphs">wetlands</text>
<text x="732.600" y="1218.600" textLength="77.600" lengthAdjust="spacingAndGlyphs">mixed</text>
<text x="729.500" y="1255" textLength="179" lengthAdjust="spacingAndGlyphs">organic waste</text>
<text x="1011.700" y="1220" textLength="175" lengthAdjust="spacingAndGlyphs">biochemicals,</text>
<text x="1011.700" y="1257" textLength="161.500" lengthAdjust="spacingAndGlyphs">biopolymers</text>
<text x="871.500" y="1331" textLength="69" lengthAdjust="spacingAndGlyphs">reuse</text>
<text x="871" y="1446.800" textLength="108" lengthAdjust="spacingAndGlyphs">washing</text>
<text x="731.600" y="1480.700" textLength="146" lengthAdjust="spacingAndGlyphs">green walls</text>
<text x="1011.600" y="1484" textLength="137" lengthAdjust="spacingAndGlyphs">bioplastics</text>
<text x="1253" y="1484" textLength="134" lengthAdjust="spacingAndGlyphs">packaging</text>
<text x="1255.500" y="1240" textLength="75" lengthAdjust="spacingAndGlyphs">paper</text>
<text x="1482" y="1237.600" textLength="158" lengthAdjust="spacingAndGlyphs">paper waste</text>
<text x="1476.300" y="1481" textLength="169" lengthAdjust="spacingAndGlyphs">city prunings</text>
</g>
<text x="120.500" y="1488" textLength="147" lengthAdjust="spacingAndGlyphs" font-family="Liberation Serif, serif" font-weight="bold" font-size="33" fill="url(#lg)">alchemia</text>
<text x="120.500" y="1511" textLength="78.500" lengthAdjust="spacingAndGlyphs" font-family="Liberation Serif, serif" font-weight="bold" font-size="34" fill="#2f3436">nova</text>
<text x="120.500" y="1535" textLength="147.500" lengthAdjust="spacingAndGlyphs" font-family="Liberation Sans, sans-serif" font-style="italic" font-size="20" fill="#333">circular by nature</text>
</svg>
</body></html>
